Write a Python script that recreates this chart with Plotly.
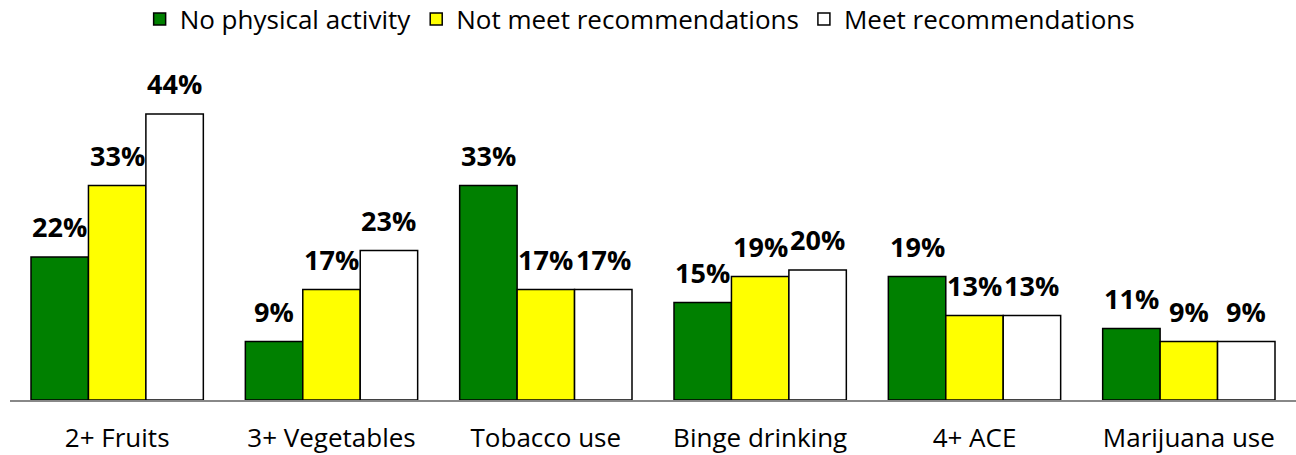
import plotly.graph_objects as go

categories = ["2+ Fruits", "3+ Vegetables", "Tobacco use", "Binge drinking", "4+ ACE", "Marijuana use"]
no_activity = [22, 9, 33, 15, 19, 11]
not_meet = [33, 17, 17, 19, 13, 9]
meet = [44, 23, 17, 20, 13, 9]

series = [
    ("No physical activity", no_activity, "#008000"),
    ("Not meet recommendations", not_meet, "#FFFF00"),
    ("Meet recommendations", meet, "#FFFFFF"),
]

font_family = "Open Sans, Liberation Sans, Arial, sans-serif"
bargap = 0.196
cat_px = 1286 / len(categories)
bar_px = cat_px * (1 - bargap) / len(series)

fig = go.Figure()
annotations = []
for i, (name, vals, color) in enumerate(series):
    fig.add_trace(go.Bar(
        name=name,
        x=categories,
        y=[v / 100 for v in vals],
        marker=dict(color=color, line=dict(color="black", width=1.5)),
    ))
    for c, v in zip(categories, vals):
        annotations.append(dict(
            x=c, y=v / 100, xref="x", yref="y",
            text=f"<b>{v}%</b>", showarrow=False,
            xanchor="center", yanchor="bottom",
            xshift=(i - 1) * bar_px, yshift=10,
            font=dict(size=27, color="black", family=font_family),
        ))

fig.update_layout(
    width=1296, height=455,
    margin=dict(l=10, r=0, t=75, b=55, autoexpand=False),
    barmode="group",
    bargap=bargap,
    bargroupgap=0,
    plot_bgcolor="white",
    paper_bgcolor="white",
    font=dict(family=font_family, color="black"),
    annotations=annotations,
    legend=dict(
        orientation="h",
        x=0.49, xanchor="center",
        y=1 + 56 / 325, yanchor="middle",
        yref="paper",
        font=dict(size=26),
        traceorder="normal",
        itemwidth=30,
    ),
    xaxis=dict(
        showline=True, linecolor="#888888", linewidth=2,
        ticks="", tickfont=dict(size=26),
        ticklabelstandoff=14, automargin=False,
    ),
    yaxis=dict(range=[0, 0.5], visible=False, showgrid=False),
)

fig.write_html("out.html")
